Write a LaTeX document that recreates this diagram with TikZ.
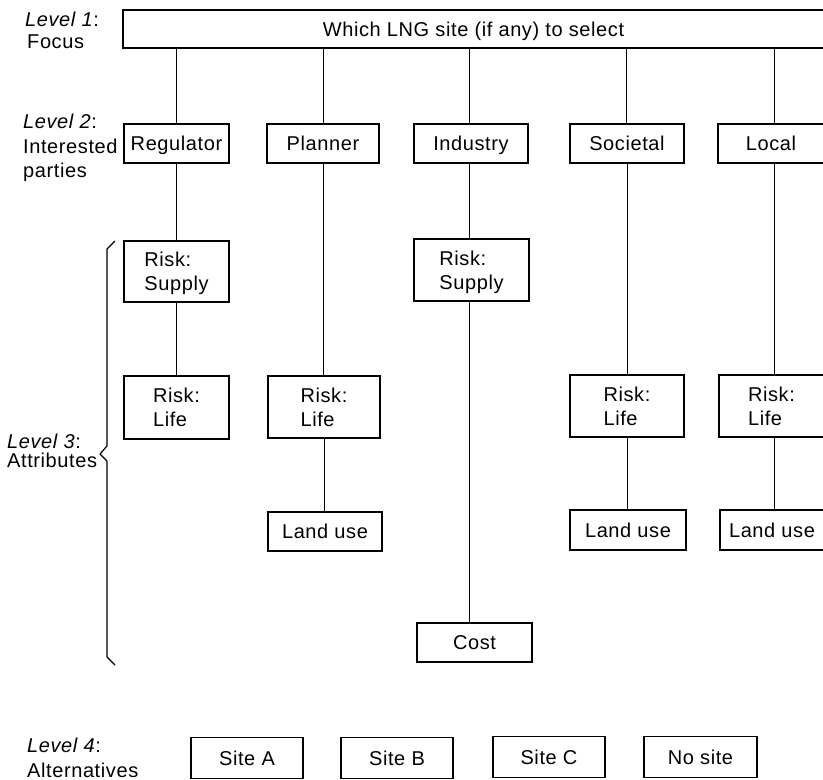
\documentclass[tikz,border=0pt]{standalone}
\usepackage{fontspec}
\setmainfont{Liberation Sans}[LetterSpace=3]
\begin{document}
\begin{tikzpicture}[x=1pt,y=-1pt,
  font=\fontsize{20}{24}\selectfont,
  box/.style={draw, line width=1.3pt, inner sep=0pt, text height=14pt, text depth=0pt},
  box2/.style={draw, line width=1.3pt, inner sep=0pt, align=left, text height=38pt, text depth=0pt},
  link/.style={line width=1pt},
  lbl/.style={inner sep=0pt, anchor=base west}]
\useasboundingbox (0,0) rectangle (823,780);

% Level 1: focus
\node[box, minimum width=701pt, minimum height=38pt] (focus) at (473.5,29) {Which LNG site (if any) to select};

% Level 2: interested parties
\node[box, minimum width=105pt, minimum height=39pt] (reg)  at (176.5,143.5) {Regulator};
\node[box, minimum width=112pt, minimum height=39pt] (plan) at (323,143.5)   {Planner};
\node[box, minimum width=114pt, minimum height=39pt] (ind)  at (471,143.5)   {Industry};
\node[box, minimum width=114pt, minimum height=39pt] (soc)  at (627,143.5)   {Societal};
\node[box, minimum width=106pt, minimum height=39pt] (loc)  at (771,143.5)   {Local};

% Level 3: attributes
\node[box2, minimum width=105pt, minimum height=61pt] (regS)  at (176.5,271.5) {Risk:\\Supply};
\node[box2, minimum width=105pt, minimum height=63pt] (regL)  at (176.5,407.5) {Risk:\\Life};
\node[box2, minimum width=115pt, minimum height=62pt] (indS)  at (471.5,270)   {Risk:\\Supply};
\node[box2, minimum width=112pt, minimum height=62pt] (planL) at (324,407)     {Risk:\\Life};
\node[box2, minimum width=114pt, minimum height=62pt] (socL)  at (627,406)     {Risk:\\Life};
\node[box2, minimum width=105pt, minimum height=62pt] (locL)  at (771.5,406)   {Risk:\\Life};
\node[box, minimum width=114pt, minimum height=39pt] (planU) at (325,531.5)   {Land use};
\node[box, minimum width=116pt, minimum height=40pt] (socU)  at (628,530)     {Land use};
\node[box, minimum width=104pt, minimum height=40pt] (locU)  at (772,530)     {Land use};
\node[box, minimum width=115pt, minimum height=39pt] (cost)  at (474.5,642.5) {Cost};

% Level 4: alternatives
\node[box, minimum width=112pt, minimum height=41pt] (siteA)  at (247,758)   {Site A};
\node[box, minimum width=112pt, minimum height=41pt] (siteB)  at (397,758)   {Site B};
\node[box, minimum width=112pt, minimum height=41pt] (siteC)  at (549,757)   {Site C};
\node[box, minimum width=113pt, minimum height=41pt] (nosite) at (700.5,757) {No site};

% connectors from the focus to the parties
\draw[link] (reg.north)  -- (reg.north |- focus.south);
\draw[link] (plan.north) -- (plan.north |- focus.south);
\draw[link] ([xshift=-2pt]ind.north) -- ([xshift=-2pt]ind.north |- focus.south);
\draw[link] ([xshift=-1pt]soc.north) -- ([xshift=-1pt]soc.north |- focus.south);
\draw[link] ([xshift=3pt]loc.north) -- ([xshift=3pt]loc.north |- focus.south);

% connectors from the parties to their attributes
\draw[link] (regS.north) -- (regS.north |- reg.south);
\draw[link] (regL.north) -- (regL.north |- regS.south);
\draw[link] (plan.south) -- (plan.south |- planL.north);
\draw[link] (planU.north -| planL.south) -- (planL.south);
\draw[link] ([xshift=-2pt]indS.north) -- ([xshift=-2pt]indS.north |- ind.south);
\draw[link] ([xshift=-2pt]indS.south) -- ([xshift=-2pt]indS.south |- cost.north);
\draw[link] (soc.south) -- (soc.south |- socL.north);
\draw[link] (socL.south) -- (socL.south |- socU.north);
\draw[link] ([xshift=3pt]loc.south) -- ([xshift=3pt]loc.south |- locL.north);
\draw[link] ([xshift=3pt]locL.south) -- ([xshift=3pt]locL.south |- locU.north);

% brace grouping the attribute level
\draw[line width=1.2pt, line join=round] (115,241) -- (107,249) -- (107,446) -- (100,454) -- (107,461) -- (107,657) -- (115,665);

% level captions
\node[lbl] (l1a) at (25,26)  {\textit{Level 1}:};
\node[lbl] (l1b) at (27,48)  {Focus};
\node[lbl] (l2a) at (23,128) {\textit{Level 2}:};
\node[lbl] (l2b) at (23,153) {Interested};
\node[lbl] (l2c) at (23,177) {parties};
\node[lbl] (l3a) at (7,448)  {\textit{Level 3}:};
\node[lbl] (l3b) at (7,467)  {Attributes};
\node[lbl] (l4a) at (27,752) {\textit{Level 4}:};
\node[lbl] (l4b) at (27,777) {Alternatives};
\end{tikzpicture}
\end{document}
